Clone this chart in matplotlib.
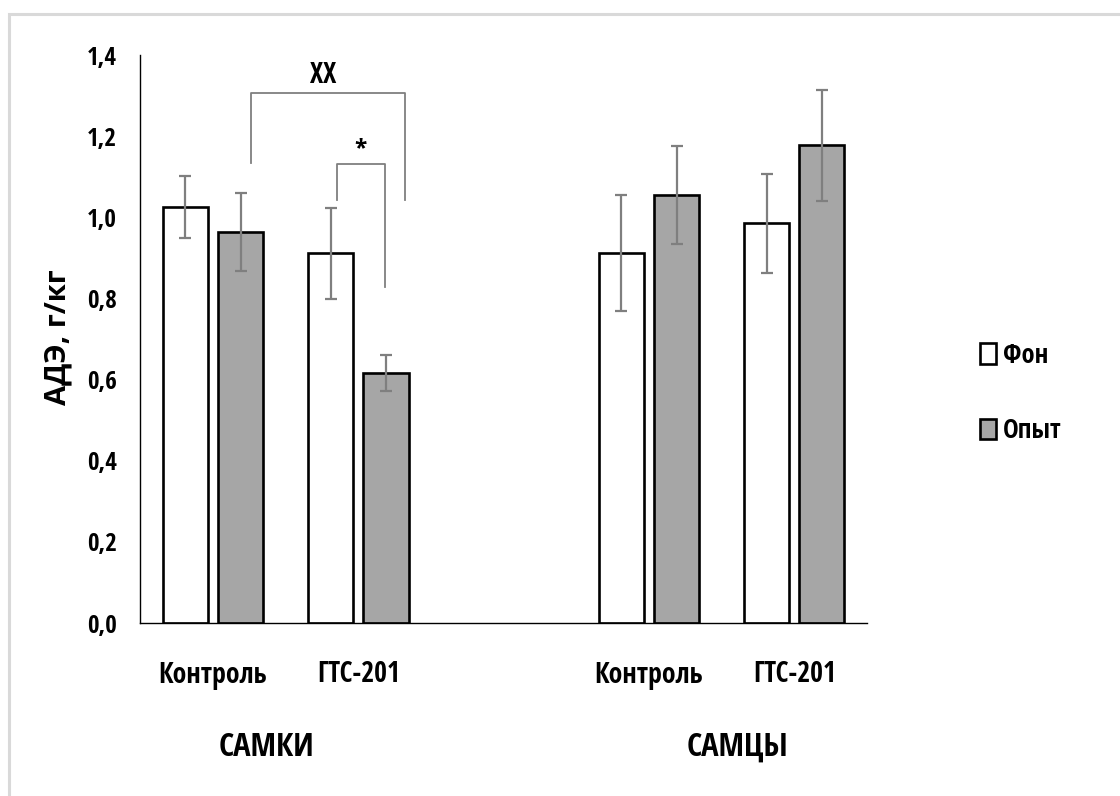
import matplotlib
matplotlib.use("Agg")
import matplotlib.pyplot as plt
from matplotlib.patches import Rectangle
import numpy as np

# category slots 0..4, slot 2 stays empty between females and males
categories = ["Контроль", "ГТС-201", "Контроль", "ГТС-201"]
positions = [0, 1, 3, 4]
fon = [1.025, 0.911, 0.911, 0.985]
fon_err = [0.076, 0.113, 0.143, 0.122]
opyt = [0.964, 0.616, 1.055, 1.177]
opyt_err = [0.096, 0.044, 0.120, 0.137]
series_names = ["Фон", "Опыт"]
sex_labels = ["САМКИ", "САМЦЫ"]

cond = ["Open Sans Condensed", "DejaVu Sans"]
plt.rcParams["font.family"] = cond
plt.rcParams["font.weight"] = "bold"

fig = plt.figure(figsize=(11.2, 7.96), dpi=100)
ax = fig.add_axes([140.4 / 1120, 1 - 623 / 796, (867 - 140.4) / 1120, (623 - 55) / 796])

# light frame around the chart area
fig.patches.append(Rectangle((9.3 / 1120, -0.2), 1.5, 1.2 - 14 / 796,
                             transform=fig.transFigure, fill=False,
                             edgecolor="#d9d9d9", lw=2.2, zorder=0))

x = np.array(positions, dtype=float)
w = 0.31
off = 0.19
err_kw = dict(ecolor="#7f7f7f", elinewidth=1.6, capsize=4, capthick=1.6)
ax.bar(x - off, fon, w, yerr=fon_err, color="white", edgecolor="black",
       lw=1.9, error_kw=err_kw, label=series_names[0], zorder=2)
ax.bar(x + off, opyt, w, yerr=opyt_err, color="#a6a6a6", edgecolor="black",
       lw=1.9, error_kw=err_kw, label=series_names[1], zorder=2)

ax.set_xlim(-0.5, 4.5)
ax.set_ylim(0, 1.4)
yt = np.arange(0, 1.41, 0.2)
ax.set_yticks(yt)
ax.set_yticklabels([f"{v:.1f}".replace(".", ",") for v in yt])
ax.set_xticks(x)
ax.set_xticklabels(categories)
ax.tick_params(axis="y", length=0, pad=17, labelsize=18)
ax.tick_params(axis="x", length=0, pad=27, labelsize=20)
for s in ["top", "right"]:
    ax.spines[s].set_visible(False)
for s in ["left", "bottom"]:
    ax.spines[s].set_linewidth(1.0)

ax.set_ylabel("АДЭ, г/кг", family=["Open Sans", "DejaVu Sans"],
              fontsize=21, fontweight="bold")
ax.yaxis.set_label_coords((72 - 140.4) / (867 - 140.4), (623 - 337) / (623 - 55))

# significance brackets
bk = dict(color="#7f7f7f", lw=1.3, clip_on=False, zorder=3)
ax.plot([0.262, 0.262, 1.32, 1.32], [1.134, 1.306, 1.306, 1.043], **bk)
ax.text(0.758, 1.35, "XX", ha="center", va="center", fontsize=20)
ax.plot([0.853, 0.853, 1.185, 1.185], [1.043, 1.131, 1.131, 0.828], **bk)
ax.text(1.012, 1.165, "*", ha="center", va="center", fontsize=19)

# sex group captions
fig.text(266.5 / 1120, 1 - 747 / 796, sex_labels[0], ha="center", va="center", fontsize=23.5)
fig.text(737 / 1120, 1 - 747 / 796, sex_labels[1], ha="center", va="center", fontsize=23.5)

leg = ax.legend(loc="center left", bbox_to_anchor=(967 / 1120, 1 - 393 / 796),
                bbox_transform=fig.transFigure, frameon=False, fontsize=19,
                handlelength=0.6, handleheight=0.8, handletextpad=0.25,
                labelspacing=1.85, borderpad=0)

fig.savefig("out.png", dpi=100)
